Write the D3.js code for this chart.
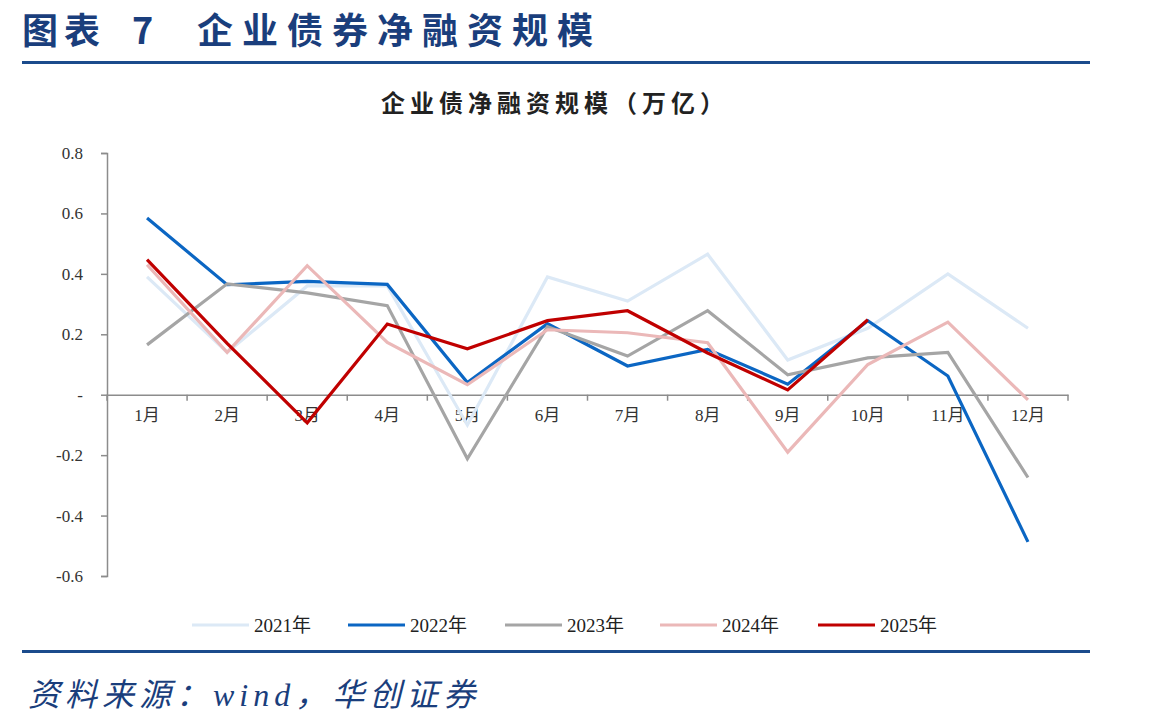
<!DOCTYPE html>
<html><head><meta charset="utf-8">
<script src="https://cdn.jsdelivr.net/npm/d3@7"></script>
<style>body{margin:0;background:#fff;}svg{display:block;}</style>
</head><body>
<svg id="chart" width="1149" height="727"></svg>
<script>
const months = ["1月","2月","3月","4月","5月","6月","7月","8月","9月","10月","11月","12月"];
const seriesNames = ["2021年","2022年","2023年","2024年","2025年"];
const v2021 = [0.39,0.14,0.36,0.36,-0.10,0.39,0.31,0.465,0.115,0.22,0.40,0.22];
const v2022 = [0.585,0.364,0.375,0.365,0.04,0.235,0.095,0.15,0.035,0.245,0.062,-0.487];
const v2023 = [0.165,0.367,0.337,0.295,-0.212,0.225,0.128,0.278,0.066,0.122,0.14,-0.274];
const v2024 = [0.43,0.14,0.427,0.173,0.033,0.215,0.205,0.172,-0.19,0.10,0.24,-0.017];
const v2025 = [0.447,0.17,-0.093,0.234,0.152,0.245,0.278,0.138,0.016,0.248];
const yTicks = [0.8,0.6,0.4,0.2,0,-0.2,-0.4,-0.6];
const yTickLabels = ["0.8","0.6","0.4","0.2","-","-0.2","-0.4","-0.6"];
const colors = ["#DCE9F6","#0B66C3","#A5A5A5","#EBB8B8","#C00000"];
const allValues = [v2021,v2022,v2023,v2024,v2025];

const svg = d3.select("#chart");
const navy = "#1A3E7C";

// Header
const title = svg.append("text").attr("y",44).attr("fill",navy)
  .style("font-family","'Noto Sans CJK SC', sans-serif").style("font-weight","700").style("font-size","36px");
title.append("tspan").attr("x",22).style("letter-spacing","6px").text("图表");
title.append("tspan").attr("x",132).text("7");
title.append("tspan").attr("x",197).style("letter-spacing","9px").text("企业债券净融资规模");
svg.append("line").attr("x1",22).attr("x2",1090).attr("y1",62.5).attr("y2",62.5).attr("stroke","#1B4B8C").attr("stroke-width",3);
svg.append("line").attr("x1",22).attr("x2",1090).attr("y1",651.5).attr("y2",651.5).attr("stroke","#1B4B8C").attr("stroke-width",3);
svg.append("text").attr("x",28).attr("y",706).attr("fill",navy)
  .style("font-family","'Liberation Serif', 'Noto Sans CJK SC', serif").style("font-style","italic")
  .style("font-size","32px").style("letter-spacing","5px").text("资料来源：wind，华创证券");

// Chart title
svg.append("text").attr("x",555).attr("y",112).attr("text-anchor","middle").attr("fill","#222")
  .style("font-family","'Noto Sans CJK SC', sans-serif").style("font-weight","600")
  .style("font-size","24px").style("letter-spacing","5px").text("企业债净融资规模（万亿）");

const x = d3.scaleBand().domain(months).range([107,1068]);
const y = d3.scaleLinear().domain([-0.6,0.8]).range([576,153]);
const axisColor = "#8C8C8C";
const tickFont = "'Liberation Serif', 'Noto Sans CJK SC', serif";

// Y axis
const yAxis = svg.append("g").attr("transform","translate(107,0)")
  .call(d3.axisLeft(y).tickValues(yTicks).tickSize(6).tickPadding(18)
    .tickFormat((d,i) => yTickLabels[i]));
yAxis.attr("font-family",tickFont).attr("font-size",17);
yAxis.select(".domain").attr("stroke",axisColor).attr("stroke-width",1.5);
yAxis.selectAll(".tick line").attr("stroke",axisColor).attr("stroke-width",1.5);
yAxis.selectAll(".tick text").attr("fill","#333").style("font-family",tickFont).style("font-size","17px");

// X axis at zero
const xAxis = svg.append("g").attr("transform",`translate(0,${y(0)})`)
  .call(d3.axisBottom(x).tickSize(0).tickPadding(14));
xAxis.attr("font-family",tickFont).attr("font-size",17);
xAxis.select(".domain").attr("stroke",axisColor).attr("stroke-width",1.5);
xAxis.selectAll(".tick text").attr("fill","#333").style("font-family",tickFont).style("font-size","17px");
const bounds = months.map(m => x(m)).concat([x.range()[1]]);
xAxis.selectAll(".bnd").data(bounds).enter().append("line")
  .attr("x1",d=>d).attr("x2",d=>d).attr("y1",0).attr("y2",6)
  .attr("stroke",axisColor).attr("stroke-width",1.5);

// Lines
const line = d3.line().x((d,i)=>x(months[i])+x.bandwidth()/2).y(d=>y(d));
allValues.forEach((vals,k)=>{
  svg.append("path").datum(vals).attr("d",line).attr("fill","none")
    .attr("stroke",colors[k]).attr("stroke-width",3.2).attr("stroke-linejoin","miter");
});

// Legend
const legendX = [192,348,505,660,818];
seriesNames.forEach((n,k)=>{
  const g = svg.append("g").attr("transform",`translate(${legendX[k]},625)`);
  g.append("line").attr("x1",0).attr("x2",57).attr("y1",0).attr("y2",0)
    .attr("stroke",colors[k]).attr("stroke-width",3.2);
  g.append("text").attr("x",62).attr("y",7).attr("fill","#222")
    .style("font-family",tickFont).style("font-size","19px").text(n);
});
</script>
</body></html>
